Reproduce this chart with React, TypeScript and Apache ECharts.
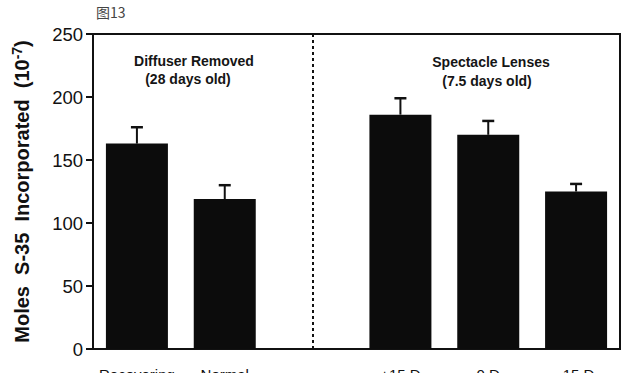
import React, { useEffect, useRef } from "react";
import * as echarts from "echarts";

const categories = ["Recovering", "Normal", "", "+15 D", "0 D", "-15 D"];
const means = [163, 119, null, 186, 170, 125];
const errors = [13, 11, null, 13, 11, 6];
const yTicks = [0, 50, 100, 150, 200, 250];
const groupLabels = [
  { title: "Diffuser Removed", sub: "(28 days old)" },
  { title: "Spectacle Lenses", sub: "(7.5 days old)" },
];

export default function App() {
  const ref = useRef<HTMLDivElement>(null);
  useEffect(() => {
    if (!ref.current) return;
    const chart = echarts.init(ref.current, null, { renderer: "svg" });
    const font = "Liberation Sans, Arial, Helvetica, sans-serif";
    const errData = means.map((m, i) =>
      m == null ? [i, null, null] : [i, m, m + (errors[i] as number)]
    );
    const ann = { fontSize: 14, fontWeight: "bold", fontFamily: font, fill: "#151515", align: "center", verticalAlign: "middle" };
    chart.setOption({
      animation: false,
      backgroundColor: "#fff",
      grid: {
        left: 93,
        right: 20,
        top: 34,
        bottom: 24,
        outerBoundsMode: "none",
        containLabel: false,
        show: true,
        borderColor: "#111",
        borderWidth: 2,
        backgroundColor: "transparent",
      },
      xAxis: {
        type: "category",
        data: categories,
        axisLine: { lineStyle: { color: "#111", width: 2 } },
        axisTick: { show: false },
        axisLabel: { color: "#111", fontSize: 15, fontFamily: font, margin: 18, interval: 0 },
      },
      yAxis: {
        type: "value",
        min: yTicks[0],
        max: yTicks[yTicks.length - 1],
        interval: 50,
        splitLine: { show: false },
        axisLine: { show: true, lineStyle: { color: "#111", width: 2 } },
        axisTick: { show: true, length: 7, lineStyle: { color: "#111", width: 2 } },
        axisLabel: { color: "#111", fontSize: 18.5, fontFamily: font, margin: 10 },
        name: "{b|Moles  S-35  Incorporated  (10}{s|-7}{b|)}",
        nameLocation: "middle",
        nameGap: 60,
        nameTextStyle: {
          rich: {
            b: { fontSize: 20, fontWeight: "bold", fontFamily: font, color: "#111" },
            s: { fontSize: 14, fontWeight: "bold", fontFamily: font, color: "#111", verticalAlign: "top", padding: [0, 0, 9, 0] },
          },
        },
      },
      series: [
        {
          type: "bar",
          data: means,
          barWidth: 62,
          itemStyle: { color: "#0c0c0c" },
          markLine: {
            silent: true,
            symbol: "none",
            label: { show: false },
            lineStyle: { type: [3, 3], color: "#111", width: 2 },
            data: [{ xAxis: 2 }],
          },
        },
        {
          type: "custom",
          data: errData,
          z: 5,
          renderItem: (params: any, api: any) => {
            const lo = api.value(1);
            const hi = api.value(2);
            if (lo == null || isNaN(lo)) return null;
            const p1 = api.coord([api.value(0), lo]);
            const p2 = api.coord([api.value(0), hi]);
            const cap = 6;
            return {
              type: "group",
              children: [
                { type: "line", shape: { x1: p1[0], y1: p1[1], x2: p2[0], y2: p2[1] }, style: { stroke: "#111", lineWidth: 2 } },
                { type: "line", shape: { x1: p2[0] - cap, y1: p2[1], x2: p2[0] + cap, y2: p2[1] }, style: { stroke: "#111", lineWidth: 2.5 } },
              ],
            };
          },
        },
      ],
      graphic: [
        { type: "text", left: 96, top: 5, style: { text: "图13", fontSize: 14, fontFamily: "Noto Sans CJK SC, serif", fill: "#444" } },
        { type: "text", x: 194, y: 61, style: { ...ann, text: groupLabels[0].title } },
        { type: "text", x: 188, y: 79, style: { ...ann, text: groupLabels[0].sub } },
        { type: "text", x: 491, y: 62, style: { ...ann, text: groupLabels[1].title } },
        { type: "text", x: 487, y: 81, style: { ...ann, text: groupLabels[1].sub } },
      ],
    });
    return () => chart.dispose();
  }, []);
  return <div ref={ref} style={{ width: 640, height: 373, position: "absolute", left: 0, top: 0 }} />;
}
